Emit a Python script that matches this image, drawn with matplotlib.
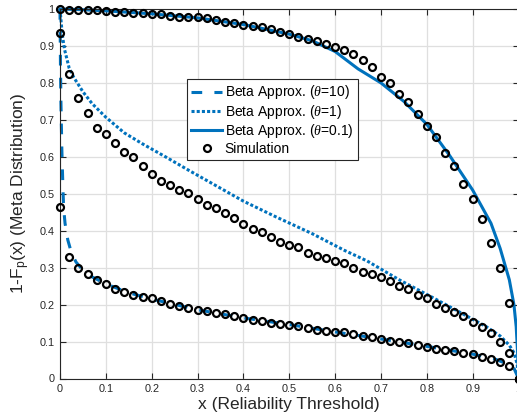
import numpy as np
import matplotlib
matplotlib.use("Agg")
import matplotlib.pyplot as plt

plt.rcParams["font.family"] = ["Liberation Sans", "DejaVu Sans"]
plt.rcParams["mathtext.fontset"] = "custom"
plt.rcParams["mathtext.rm"] = "Liberation Sans"
plt.rcParams["mathtext.it"] = "Liberation Serif:italic"

# simulation grid and values
x_sim = np.linspace(0, 1, 51)
sim_theta01 = [
    1.0, 0.998, 0.997, 0.996, 0.996, 0.995, 0.993, 0.991, 0.989, 0.988,
    0.987, 0.986, 0.982, 0.979, 0.979, 0.977, 0.975, 0.969, 0.966, 0.963,
    0.957, 0.954, 0.950, 0.945, 0.939, 0.931, 0.925, 0.919, 0.913, 0.905,
    0.898, 0.889, 0.877, 0.862, 0.843, 0.817, 0.799, 0.769, 0.748, 0.715,
    0.683, 0.653, 0.609, 0.576, 0.526, 0.486, 0.431, 0.366, 0.298, 0.205,
    0.0,
]
sim_theta1 = [
    0.934, 0.824, 0.758, 0.719, 0.679, 0.662, 0.637, 0.612, 0.599, 0.576,
    0.553, 0.535, 0.525, 0.511, 0.501, 0.485, 0.470, 0.462, 0.447, 0.434,
    0.418, 0.405, 0.397, 0.382, 0.370, 0.361, 0.355, 0.341, 0.332, 0.326,
    0.318, 0.312, 0.300, 0.289, 0.284, 0.274, 0.264, 0.249, 0.241, 0.226,
    0.217, 0.202, 0.192, 0.181, 0.170, 0.152, 0.139, 0.122, 0.099, 0.069,
    0.0,
]
sim_theta10 = [
    0.463, 0.330, 0.300, 0.283, 0.267, 0.256, 0.242, 0.234, 0.226, 0.221,
    0.217, 0.211, 0.202, 0.197, 0.190, 0.185, 0.183, 0.178, 0.174, 0.170,
    0.165, 0.159, 0.155, 0.150, 0.148, 0.145, 0.143, 0.138, 0.132, 0.129,
    0.125, 0.125, 0.120, 0.116, 0.111, 0.107, 0.102, 0.098, 0.095, 0.092,
    0.086, 0.080, 0.077, 0.074, 0.069, 0.065, 0.059, 0.053, 0.045, 0.033,
    0.0,
]

# beta approximation curves
x_b10 = [0, 0.0005, 0.001, 0.002, 0.004, 0.0065, 0.008, 0.011, 0.017, 0.025,
         0.035, 0.05, 0.07, 0.1, 0.15, 0.2, 0.3, 0.4, 0.5, 0.6, 0.7, 0.8,
         0.9, 0.95, 0.98, 0.99, 1.0]
y_b10 = [1.0, 0.93, 0.85, 0.75, 0.62, 0.51, 0.46, 0.42, 0.375, 0.34,
         0.315, 0.293, 0.275, 0.256, 0.232, 0.215, 0.186, 0.164, 0.146, 0.126,
         0.107, 0.087, 0.066, 0.052, 0.037, 0.028, 0.0]

x_b1 = [0, 0.005, 0.01, 0.02, 0.03, 0.05, 0.07, 0.1, 0.14, 0.18, 0.23, 0.28,
        0.33, 0.4, 0.47, 0.55, 0.62, 0.67, 0.74, 0.81, 0.88, 0.93, 0.96,
        0.98, 0.99, 0.997, 1.0]
y_b1 = [1.0, 0.93, 0.89, 0.84, 0.815, 0.776, 0.744, 0.707, 0.665, 0.635,
        0.600, 0.564, 0.529, 0.480, 0.438, 0.392, 0.347, 0.318, 0.267, 0.221,
        0.174, 0.140, 0.115, 0.09, 0.07, 0.04, 0.0]

x_b01 = [0, 0.05, 0.1, 0.2, 0.3, 0.4, 0.5, 0.55, 0.6, 0.65, 0.7, 0.75, 0.8,
         0.85, 0.9, 0.94, 0.96, 0.98, 0.99, 0.995, 0.998, 1.0]
y_b01 = [1.0, 0.998, 0.995, 0.987, 0.976, 0.958, 0.932, 0.914, 0.885, 0.838,
         0.800, 0.75, 0.688, 0.603, 0.51, 0.42, 0.352, 0.267, 0.2, 0.14,
         0.07, 0.0]

labels = [r"Beta Approx. ($\theta$=10)", r"Beta Approx. ($\theta$=1)",
          r"Beta Approx. ($\theta$=0.1)", "Simulation"]
ticks = np.round(np.arange(0, 1.01, 0.1), 1)
tick_labels = ["0", "0.1", "0.2", "0.3", "0.4", "0.5", "0.6", "0.7", "0.8", "0.9", "1"]

blue = "#0072BD"
dark = "#262626"

fig = plt.figure(figsize=(5.17, 4.20), dpi=100)
ax = fig.add_axes([60 / 517, 1 - 378.5 / 420, 458.5 / 517, 369.5 / 420])

l1, = ax.plot(x_b10, y_b10, color=blue, lw=2.2, linestyle=(0, (3.5, 4)), clip_on=False)
l2, = ax.plot(x_b1, y_b1, color=blue, lw=2.2, linestyle=(0, (1, 0.7)), clip_on=False)
l3, = ax.plot(x_b01, y_b01, color=blue, lw=2.2, clip_on=False)
s = None
for ys in [sim_theta01, sim_theta1, sim_theta10]:
    s, = ax.plot(x_sim, ys, "o", ms=5, mfc="none", mec="black", mew=1.6,
                 clip_on=False, zorder=3)

ax.set_xlim(0, 1)
ax.set_ylim(0, 1)
ax.set_xticks(ticks)
ax.set_xticklabels(tick_labels)
ax.set_yticks(ticks)
ax.set_yticklabels(tick_labels)
ax.grid(True, color="#dfdfdf", lw=0.9)
ax.set_axisbelow(True)
ax.tick_params(direction="in", length=4, width=0.8, colors=dark, labelsize=7.8,
               top=True, right=True, pad=4)
for sp in ax.spines.values():
    sp.set_color(dark)
    sp.set_linewidth(0.8)

ax.set_xlabel("x (Reliability Threshold)", fontsize=12.5, color=dark, labelpad=2)
ax.set_ylabel(r"1-F$_\mathrm{p}$(x) (Meta Distribution)", fontsize=12.5, color=dark,
              labelpad=5)

leg = ax.legend([l1, l2, l3, s], labels, loc="upper left",
                bbox_to_anchor=(0.2777, 0.8097), borderaxespad=0, fontsize=10,
                handlelength=2.2, handletextpad=0.2, borderpad=0.3,
                labelspacing=0.1, fancybox=False, framealpha=1)
leg.get_frame().set_edgecolor(dark)
leg.get_frame().set_linewidth(0.8)

fig.savefig("out.png", dpi=100)
